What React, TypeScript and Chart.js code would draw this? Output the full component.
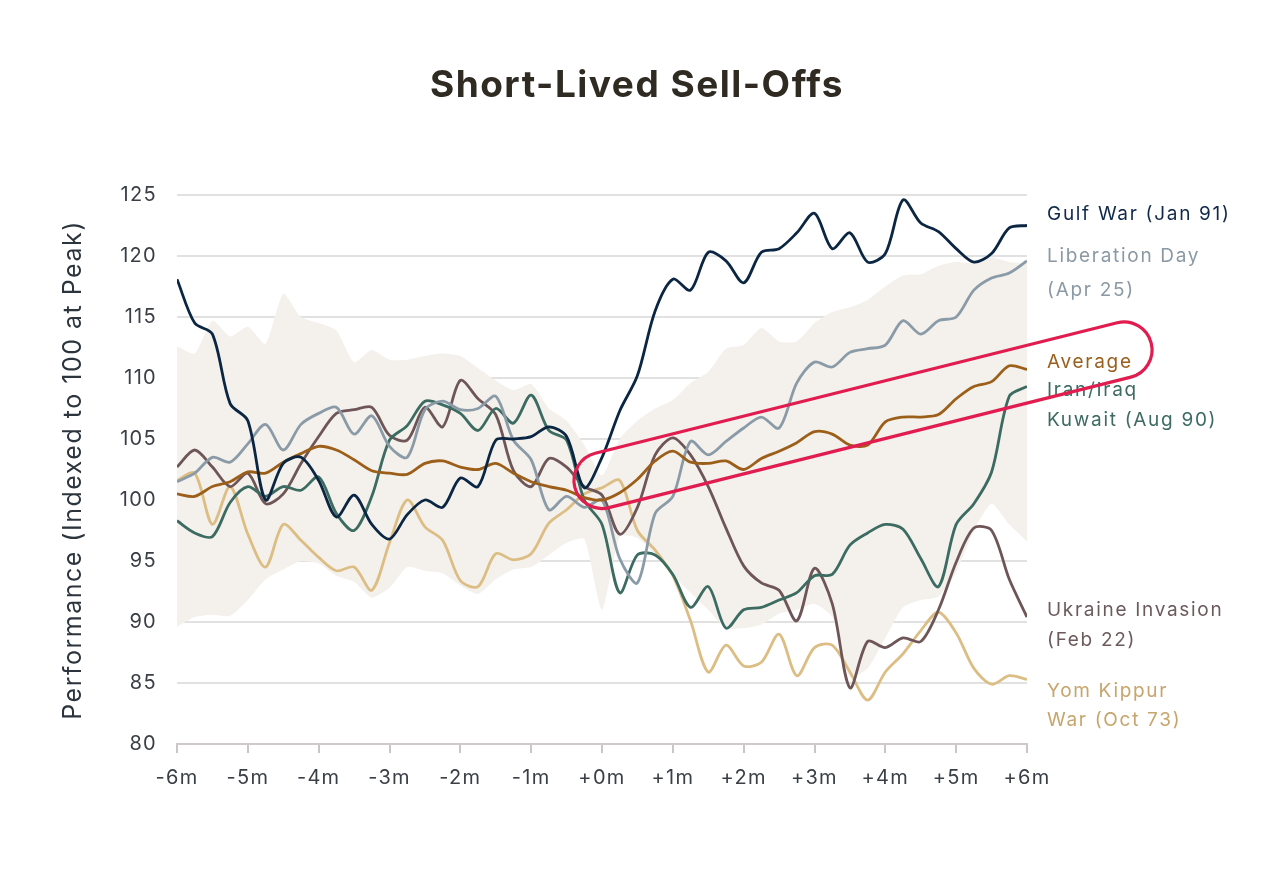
import { useEffect, useRef } from 'react';
import { Chart, registerables } from 'chart.js';

Chart.register(...registerables);

// quarter-month steps from -6m to +6m around the peak
const months = Array.from({ length: 49 }, (_, i) => -6 + i / 4);

const gulfWar = [
  118.1, 114.5, 113.6, 107.9, 106.5, 100.0, 103.0, 103.5, 101.6, 98.6, 100.4, 98.0, 96.8,
  98.8, 100.0, 99.4, 101.8, 101.1, 104.9, 105.0, 105.2, 106.0, 105.2, 101.0, 103.5,
  107.3, 110.2, 115.5, 118.1, 117.2, 120.3, 119.6, 117.8, 120.3, 120.6, 121.9, 123.5,
  120.6, 121.9, 119.5, 120.2, 124.6, 122.7, 122.0, 120.6, 119.5, 120.2, 122.3, 122.5,
];

const liberationDay = [
  101.5, 102.2, 103.5, 103.1, 104.6, 106.2, 104.1, 106.2, 107.1, 107.6, 105.4, 106.9, 104.4,
  103.5, 107.4, 108.1, 107.4, 107.5, 108.5, 104.9, 103.3, 99.2, 100.3, 99.4, 100.0,
  95.2, 93.2, 98.9, 100.3, 104.8, 103.7, 104.8, 105.9, 106.8, 105.9, 109.6, 111.3,
  110.9, 112.1, 112.4, 112.7, 114.7, 113.6, 114.7, 115.0, 117.2, 118.2, 118.6, 119.6,
];

const average = [
  100.5, 100.3, 101.1, 101.5, 102.3, 102.2, 103.1, 103.8, 104.4, 104.1, 103.3, 102.4, 102.2,
  102.1, 103.0, 103.2, 102.7, 102.5, 103.0, 102.2, 101.5, 101.1, 100.8, 100.2, 100.0,
  100.6, 101.7, 103.2, 104.0, 103.1, 103.0, 103.2, 102.5, 103.4, 104.0, 104.7, 105.6,
  105.4, 104.5, 104.5, 106.4, 106.8, 106.8, 107.0, 108.3, 109.3, 109.7, 111.0, 110.7,
];

const iranIraqKuwait = [
  98.3, 97.3, 97.0, 99.8, 101.1, 100.3, 101.1, 100.8, 101.9, 98.9, 97.5, 100.3, 104.9,
  106.1, 108.1, 107.8, 107.1, 105.7, 107.5, 106.3, 108.6, 105.7, 104.9, 100.0, 98.0,
  92.4, 95.5, 95.5, 93.9, 91.2, 92.9, 89.5, 91.0, 91.2, 91.8, 92.4, 93.8,
  93.9, 96.3, 97.3, 98.0, 97.6, 95.2, 92.9, 98.0, 99.7, 102.3, 108.5, 109.3,
];

const ukraineInvasion = [
  102.7, 104.1, 102.7, 101.1, 102.2, 99.7, 100.5, 103.0, 105.2, 107.1, 107.4, 107.6, 105.3,
  104.9, 107.6, 106.0, 109.8, 108.3, 107.0, 102.4, 101.1, 103.4, 102.7, 101.1, 100.4,
  97.2, 99.4, 103.7, 105.1, 103.7, 101.1, 97.7, 94.6, 93.2, 92.6, 90.1, 94.4,
  91.5, 84.6, 88.4, 87.9, 88.7, 88.4, 91.0, 94.9, 97.7, 97.5, 93.5, 90.4,
];

const yomKippur = [
  101.6, 102.2, 98.0, 101.1, 97.2, 94.5, 98.0, 96.7, 95.3, 94.2, 94.5, 92.6, 96.5,
  100.0, 97.8, 96.7, 93.4, 92.9, 95.6, 95.1, 95.6, 98.1, 99.2, 100.5, 101.0,
  101.6, 97.5, 95.9, 93.8, 90.1, 85.9, 88.1, 86.4, 86.7, 89.0, 85.6, 87.9,
  88.1, 85.9, 83.6, 85.9, 87.4, 89.3, 90.8, 89.1, 86.2, 84.9, 85.6, 85.3,
];

// historical range band
const rangeHigh = [
  112.6, 112.0, 114.7, 113.4, 114.2, 112.8, 116.9, 115.0, 114.5, 113.9, 111.3, 112.3, 111.5,
  111.5, 111.8, 112.0, 111.8, 110.8, 109.8, 109.0, 109.5, 107.5, 106.5, 104.5, 102.0,
  105.0, 106.5, 107.5, 108.2, 109.6, 110.5, 112.4, 112.7, 114.1, 113.0, 113.0, 114.5,
  115.4, 115.8, 116.4, 117.5, 118.4, 118.5, 119.2, 119.5, 119.4, 119.9, 119.5, 119.4,
];

const rangeLow = [
  89.6, 90.4, 90.6, 90.5, 91.8, 93.5, 94.3, 95.0, 94.8, 93.8, 93.3, 92.0, 92.8,
  94.5, 94.2, 94.0, 93.0, 92.3, 93.5, 94.3, 94.5, 95.5, 96.5, 96.8, 91.0,
  97.0, 96.9, 95.5, 93.8, 92.4, 91.0, 89.5, 89.5, 89.8, 90.7, 91.0, 91.5,
  90.4, 85.5, 86.2, 88.7, 91.2, 91.8, 92.1, 94.1, 97.5, 99.7, 98.0, 96.6,
];

const FONT = 'Inter, "Noto Sans", sans-serif';

const endLabels = [
  { lines: ['Gulf War (Jan 91)'], color: '#10294a', at: 123.4, gap: 30 },
  { lines: ['Liberation Day', '(Apr 25)'], color: '#8a99a4', at: 120.0, gap: 34 },
  { lines: ['Average'], color: '#9b5f1d', at: 111.3, gap: 30 },
  { lines: ['Iran/Iraq', 'Kuwait (Aug 90)'], color: '#3d6b62', at: 109.0, gap: 30 },
  { lines: ['Ukraine Invasion', '(Feb 22)'], color: '#6c5a5c', at: 91.0, gap: 30 },
  { lines: ['Yom Kippur', 'War (Oct 73)'], color: '#c7a56c', at: 84.3, gap: 29 },
];

// highlight around the average's climb, in axis units
const focusStart = { x: 0, y: 101.6 };
const focusEnd = { x: 7.37, y: 112.3 };

const pts = (vals: number[]) => vals.map((v, i) => ({ x: months[i], y: v }));

const extras = {
  id: 'extras',
  beforeDraw(chart: any) {
    // wider tracking for the axis tick labels
    chart.ctx.letterSpacing = '1.3px';
  },
  afterDatasetsDraw(chart: any) {
    const { ctx, chartArea, scales } = chart;
    ctx.save();
    ctx.letterSpacing = '1.7px';
    ctx.font = `19px ${FONT}`;
    ctx.textAlign = 'left';
    ctx.textBaseline = 'middle';
    endLabels.forEach((l) => {
      const y0 = scales.y.getPixelForValue(l.at);
      ctx.fillStyle = l.color;
      l.lines.forEach((t, k) => ctx.fillText(t, chartArea.right + 20, y0 + k * l.gap));
    });
    ctx.restore();
  },
  afterDraw(chart: any) {
    const { ctx, scales, width } = chart;
    ctx.save();
    // title
    ctx.letterSpacing = '1.5px';
    ctx.fillStyle = '#2f2a22';
    ctx.font = `bold 37px ${FONT}`;
    ctx.textAlign = 'center';
    ctx.textBaseline = 'middle';
    ctx.fillText('Short-Lived Sell-Offs', width / 2, 86);
    // y axis title
    ctx.letterSpacing = '1.5px';
    ctx.translate(73, 470);
    ctx.rotate(-Math.PI / 2);
    ctx.fillStyle = '#2c343d';
    ctx.font = `25px ${FONT}`;
    ctx.fillText('Performance (Indexed to 100 at Peak)', 0, 0);
    ctx.restore();

    // red pill
    const x1 = scales.x.getPixelForValue(focusStart.x);
    const y1 = scales.y.getPixelForValue(focusStart.y);
    const x2 = scales.x.getPixelForValue(focusEnd.x);
    const y2 = scales.y.getPixelForValue(focusEnd.y);
    const len = Math.hypot(x2 - x1, y2 - y1);
    const r = 28;
    ctx.save();
    ctx.translate(x1, y1);
    ctx.rotate(Math.atan2(y2 - y1, x2 - x1));
    ctx.beginPath();
    ctx.moveTo(0, -r);
    ctx.lineTo(len, -r);
    ctx.arc(len, 0, r, -Math.PI / 2, Math.PI / 2);
    ctx.lineTo(0, r);
    ctx.arc(0, 0, r, Math.PI / 2, (3 * Math.PI) / 2);
    ctx.closePath();
    ctx.strokeStyle = '#e11c4f';
    ctx.lineWidth = 3.2;
    ctx.stroke();
    ctx.restore();
  },
};

const line = (data: number[], color: string, order: number) => ({
  data: pts(data),
  borderColor: color,
  borderWidth: 2.8,
  pointRadius: 0,
  tension: 0.3,
  fill: false,
  order,
});

export default function App() {
  const canvasRef = useRef<HTMLCanvasElement | null>(null);
  const chartRef = useRef<Chart | null>(null);

  useEffect(() => {
    document.body.style.margin = '0';
    if (!canvasRef.current) return;
    if (chartRef.current) chartRef.current.destroy();

    chartRef.current = new Chart(canvasRef.current, {
      type: 'line',
      data: {
        datasets: [
          line(gulfWar, '#0b2642', 0),
          line(average, '#9c5f19', 1),
          line(liberationDay, '#8a9ba7', 2),
          line(iranIraqKuwait, '#3b6b61', 3),
          line(ukraineInvasion, '#6e5658', 4),
          line(yomKippur, '#dcbd83', 5),
          {
            data: pts(rangeLow),
            borderWidth: 0,
            pointRadius: 0,
            tension: 0.2,
            fill: false,
            order: 10,
          },
          {
            data: pts(rangeHigh),
            borderWidth: 0,
            pointRadius: 0,
            tension: 0.2,
            fill: '-1',
            backgroundColor: '#f4f0ec',
            order: 9,
          },
        ],
      },
      options: {
        responsive: false,
        animation: false,
        layout: { padding: { top: 195, right: 247, bottom: 0, left: 0 } },
        plugins: { legend: { display: false }, tooltip: { enabled: false } },
        scales: {
          x: {
            type: 'linear',
            min: -6,
            max: 6,
            afterFit: (s: any) => {
              s.height = 134;
            },
            ticks: {
              stepSize: 1,
              maxRotation: 0,
              padding: 13,
              color: '#3a3f46',
              font: { family: FONT, size: 20 },
              callback: (v: any) => (v < 0 ? `${v}m` : `+${v}m`),
            },
            grid: {
              drawOnChartArea: false,
              drawTicks: true,
              tickLength: 9,
              color: '#cbc5c5',
              lineWidth: 2,
            },
            border: { display: true, color: '#cfc9c9', width: 2 },
          },
          y: {
            min: 80,
            max: 125,
            afterFit: (s: any) => {
              s.width = 177;
            },
            ticks: {
              stepSize: 5,
              padding: 20,
              color: '#3a3f46',
              font: { family: FONT, size: 20 },
            },
            grid: { color: '#e1e1e1', lineWidth: 2, drawTicks: false },
            border: { display: false },
          },
        },
      },
      plugins: [extras],
    } as any);

    return () => {
      if (chartRef.current) {
        chartRef.current.destroy();
        chartRef.current = null;
      }
    };
  }, []);

  return <canvas ref={canvasRef} width={1274} height={878} style={{ display: 'block' }} />;
}
